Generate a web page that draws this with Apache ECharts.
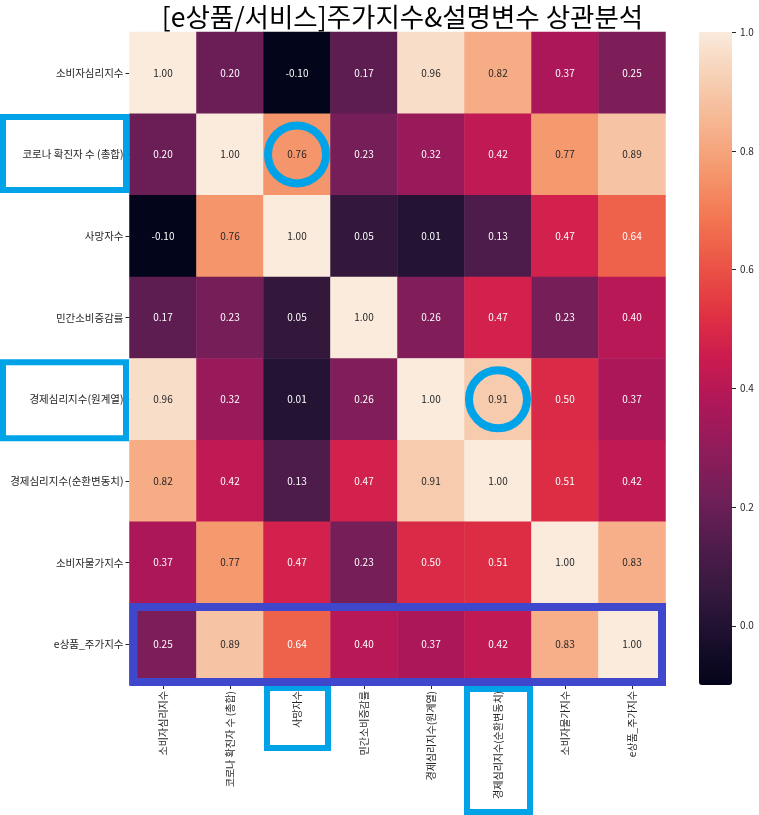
<!DOCTYPE html>
<html>
<head>
<meta charset="utf-8">
<script src="https://cdn.jsdelivr.net/npm/echarts@6/dist/echarts.min.js"></script>
<style>
html,body{margin:0;padding:0;background:#fff;}
#chart{width:759px;height:815px;}
</style>
</head>
<body>
<div id="chart"></div>
<script>
const titleText = '[e상품/서비스]주가지수&설명변수 상관분석';
const variables = ['소비자심리지수', '코로나 확진자 수 (총합)', '사망자수', '민간소비증감률', '경제심리지수(원계열)', '경제심리지수(순환변동치)', '소비자물가지수', 'e상품_주가지수'];
const row0 = [1.00, 0.20, -0.10, 0.17, 0.96, 0.82, 0.37, 0.25];
const row1 = [0.20, 1.00, 0.76, 0.23, 0.32, 0.42, 0.77, 0.89];
const row2 = [-0.10, 0.76, 1.00, 0.05, 0.01, 0.13, 0.47, 0.64];
const row3 = [0.17, 0.23, 0.05, 1.00, 0.26, 0.47, 0.23, 0.40];
const row4 = [0.96, 0.32, 0.01, 0.26, 1.00, 0.91, 0.50, 0.37];
const row5 = [0.82, 0.42, 0.13, 0.47, 0.91, 1.00, 0.51, 0.42];
const row6 = [0.37, 0.77, 0.47, 0.23, 0.50, 0.51, 1.00, 0.83];
const row7 = [0.25, 0.89, 0.64, 0.40, 0.37, 0.42, 0.83, 1.00];
const colorbarTicks = [0.0, 0.2, 0.4, 0.6, 0.8, 1.0];
const scaleMin = -0.10, scaleMax = 1.00;
// highlighted cells [col,row] and highlighted labels
const circledCells = [[2, 1], [5, 4]];
const boxedRows = [1, 4];
const boxedCols = [2, 5];
const boxedRowFull = 7;

const matrix = [row0, row1, row2, row3, row4, row5, row6, row7];
const rocket = ['#03051a', '#1b0f2d', '#35193e', '#501c4b', '#701f57', '#8e1c5a', '#ad1759', '#cb1b4f', '#e13342', '#eb5446', '#f37651', '#f5976d', '#f6b48f', '#f6cfb3', '#faebdd'];
const FONT = '"Noto Sans CJK KR", "Noto Sans", sans-serif';
const dark = '#262626';

const data = [];
matrix.forEach((row, i) => row.forEach((v, j) => {
  data.push({ value: [j, i, v], label: { color: v > 0.7 ? dark : '#ffffff' } });
}));

const chart = echarts.init(document.getElementById('chart'), null, { renderer: 'canvas' });
chart.setOption({
  animation: false,
  backgroundColor: '#ffffff',
  title: {
    text: titleText, left: 397.5, top: -1, textAlign: 'center',
    textStyle: { fontFamily: FONT, fontSize: 26.5, fontWeight: 'normal', color: '#000' }
  },
  grid: [
    { left: 129.5, top: 32, width: 536, height: 653 },
    { left: 699, top: 32, width: 33, height: 653 }
  ],
  xAxis: [
    {
      type: 'category', data: variables, gridIndex: 0, position: 'bottom',
      axisLine: { show: false },
      axisTick: { show: true, alignWithLabel: true, length: 4, lineStyle: { color: dark } },
      axisLabel: { rotate: 90, interval: 0, fontSize: 10, color: dark, fontFamily: FONT, margin: 6 },
      splitLine: { show: false }, splitArea: { show: false }
    },
    { type: 'value', gridIndex: 1, show: false, min: 0, max: 1 }
  ],
  yAxis: [
    {
      type: 'category', data: variables, gridIndex: 0, inverse: true,
      axisLine: { show: false },
      axisTick: { show: true, alignWithLabel: true, length: 4, lineStyle: { color: dark } },
      axisLabel: { interval: 0, fontSize: 10.5, color: dark, fontFamily: FONT, margin: 6 },
      splitLine: { show: false }, splitArea: { show: false }
    },
    {
      type: 'value', gridIndex: 1, min: scaleMin, max: scaleMax, position: 'right',
      axisLine: { show: false },
      axisTick: { show: false },
      axisLabel: { show: true, customValues: colorbarTicks, formatter: v => v.toFixed(1), fontSize: 10, color: dark, fontFamily: FONT, margin: 8 },
      splitLine: { show: false }
    }
  ],
  visualMap: {
    type: 'continuous', min: scaleMin, max: scaleMax, seriesIndex: 0, dimension: 2,
    calculable: false, orient: 'vertical', left: 699, top: 32, itemWidth: 33, itemHeight: 653,
    padding: 0, text: null, showLabel: false, hoverLink: false, z: 1,
    inRange: { color: rocket }
  },
  series: [{
    type: 'heatmap', xAxisIndex: 0, yAxisIndex: 0, data: data,
    label: { show: true, fontSize: 10, fontFamily: FONT, formatter: p => p.value[2].toFixed(2) },
    itemStyle: { borderWidth: 0 },
    emphasis: { disabled: true }
  }]
});

const gfx = [];
// colorbar tick marks, placed through the colorbar axis scale
colorbarTicks.forEach(v => {
  const y = Math.round(chart.convertToPixel({ yAxisIndex: 1 }, v)) + 0.5;
  gfx.push({ type: 'line', shape: { x1: 732, y1: y, x2: 736, y2: y }, style: { stroke: dark, lineWidth: 1 }, z: 50 });
});

// hand-drawn style highlights
const cyan = '#00A2E8', indigo = '#3F48CC';
const c00 = chart.convertToPixel({ seriesIndex: 0 }, [0, 0]);
const c11 = chart.convertToPixel({ seriesIndex: 0 }, [1, 1]);
const cw = c11[0] - c00[0], ch = c11[1] - c00[1];
circledCells.forEach(([cx, cy]) => {
  const p = chart.convertToPixel({ seriesIndex: 0 }, [cx, cy]);
  gfx.push({ type: 'circle', shape: { cx: p[0], cy: p[1], r: 29 }, style: { fill: null, stroke: cyan, lineWidth: 8 }, z: 100 });
});
boxedRows.forEach((r, k) => {
  const p = chart.convertToPixel({ seriesIndex: 0 }, [0, r]);
  const top = k === 0 ? p[1] - 37.5 : p[1] - 37;
  const h = k === 0 ? 73 : 76;
  gfx.push({ type: 'rect', shape: { x: 3, y: top, width: 123, height: h }, style: { fill: null, stroke: cyan, lineWidth: 6 }, z: 100 });
});
boxedCols.forEach((c, k) => {
  const p = chart.convertToPixel({ seriesIndex: 0 }, [c, 7]);
  const bottomEdge = p[1] + ch / 2;
  if (k === 0) {
    gfx.push({ type: 'rect', shape: { x: p[0] - 30, y: bottomEdge + 3, width: 61, height: 60 }, style: { fill: null, stroke: cyan, lineWidth: 6 }, z: 100 });
  } else {
    gfx.push({ type: 'rect', shape: { x: p[0] - 31, y: bottomEdge + 4, width: 63, height: 123 }, style: { fill: null, stroke: cyan, lineWidth: 6 }, z: 100 });
  }
});
{
  const p0 = chart.convertToPixel({ seriesIndex: 0 }, [0, boxedRowFull]);
  const left = p0[0] - cw / 2 + 4;
  gfx.push({ type: 'rect', shape: { x: left, y: p0[1] - 37.2, width: cw * 8 - 7.5, height: 75 }, style: { fill: null, stroke: indigo, lineWidth: 8 }, z: 100 });
}
chart.setOption({ graphic: gfx });
</script>
</body>
</html>
